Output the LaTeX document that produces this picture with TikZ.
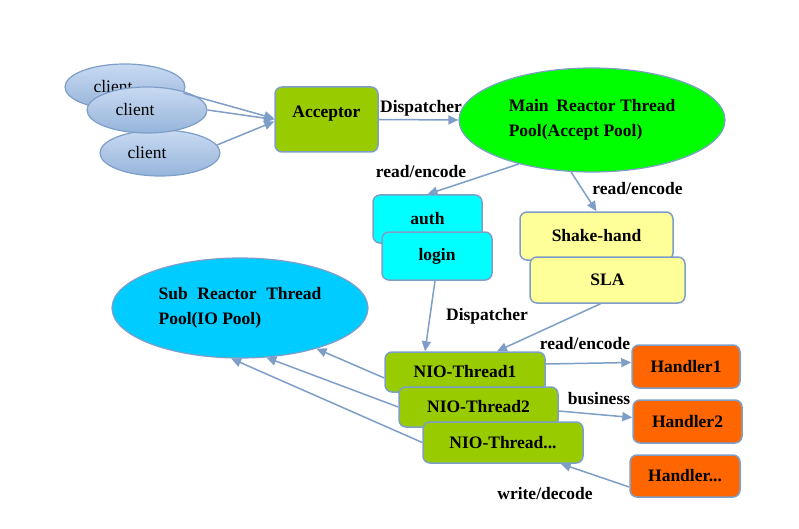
\documentclass[tikz,border=0pt]{standalone}
\usepackage{fontspec}
\setmainfont{Liberation Serif}
\usetikzlibrary{arrows.meta,shapes.geometric}
\definecolor{linec}{RGB}{126,158,200}
\definecolor{cliTop}{RGB}{200,218,242}
\definecolor{cliBot}{RGB}{150,180,218}
\definecolor{accg}{RGB}{153,204,0}
\definecolor{maing}{RGB}{0,255,0}
\definecolor{subb}{RGB}{0,204,255}
\definecolor{cyanb}{RGB}{0,255,255}
\definecolor{yelb}{RGB}{255,255,153}
\definecolor{orab}{RGB}{255,102,0}
\begin{document}
\begin{tikzpicture}[x=1pt,y=-1pt,
  every node/.style={font=\fontsize{17.5}{25}\selectfont\bfseries},
  box/.style={draw=linec, line width=1.5pt, rounded corners=7pt, inner sep=0pt},
  cli/.style={ellipse, draw=linec, line width=1.2pt, top color=cliTop, bottom color=cliBot,
    minimum width=120pt, minimum height=46pt, inner sep=0pt, font=\fontsize{17.5}{20}\selectfont},
  pool/.style={ellipse, draw=linec, line width=1.2pt, inner sep=0pt, align=left},
  arr/.style={draw=linec, line width=1.5pt, -{Triangle[length=10pt,width=9pt]}},
  lbl/.style={inner sep=0pt}
]
\useasboundingbox (0,0) rectangle (799,529);

% clients
\node[cli] (c1) at (125,87) {\raisebox{-4pt}{client}\kern24pt};
\node[cli] (c3) at (160,153) {client\kern26pt};
\node[cli] (c2) at (147,110) {client\kern24pt};

% acceptor
\node[box, fill=accg, minimum width=103pt, minimum height=65pt, text height=12pt, text depth=15pt] (acc) at (326.5,119.5) {Acceptor};

% main reactor
\node[pool, fill=maing, minimum width=266pt, minimum height=104pt] (main) at (592,120)
  {Main\hspace{0.45em}Reactor Thread\\Pool(Accept Pool)};

% auth / login
\node[box, fill=cyanb, minimum width=109pt, minimum height=48pt] (auth) at (427.5,219) {auth};
\node[box, fill=cyanb, minimum width=110pt, minimum height=48pt] (login) at (437,256) {login};

% shake-hand / SLA
\node[box, fill=yelb, minimum width=153pt, minimum height=48pt] (shake) at (596.5,236) {Shake-hand};
\node[box, fill=yelb, minimum width=155pt, minimum height=46pt] (sla) at (607.5,280) {SLA};

% sub reactor
\node[pool, fill=subb, minimum width=256pt, minimum height=100pt] (sub) at (240,308)
  {Sub\hspace{0.55em}Reactor\hspace{0.55em}Thread\\Pool(IO Pool)};

% NIO threads
\node[box, fill=accg, minimum width=160pt, minimum height=40pt] (nio1) at (465,372) {NIO-Thread1};
\node[box, fill=accg, minimum width=159pt, minimum height=40pt] (nio2) at (478.5,407) {NIO-Thread2};
\node[box, fill=accg, minimum width=160pt, minimum height=41pt] (nio3) at (503,442.5) {NIO-Thread...};

% handlers
\node[box, fill=orab, minimum width=108pt, minimum height=43pt] (h1) at (686,366.5) {Handler1};
\node[box, fill=orab, minimum width=109pt, minimum height=43pt] (h2) at (687.5,421.5) {Handler2};
\node[box, fill=orab, minimum width=110pt, minimum height=42pt] (h3) at (685,476) {Handler...};

% connectors
\draw[arr] (c1.-6) -- ([yshift=1pt]acc.west);
\draw[arr] (c2.east) -- (acc.west);
\draw[arr] (c3.8) -- ([yshift=-2pt]acc.west);
\draw[arr] (acc.east) -- (main.west);
\draw[arr] (main.211) -- (auth.north);
\draw[arr] (main.248) -- (shake.north);
\draw[arr] ([xshift=-2pt]login.south) -- ([xshift=-40pt]nio1.north);
\draw[arr] ([xshift=-7pt]sla.south) -- ([xshift=32pt]nio1.north);
\draw[arr] ([yshift=-6pt]nio1.west) -- (sub.-28);
\draw[arr] (nio2.west) -- (sub.-62);
\draw[arr] (nio3.west) -- (sub.-100);
\draw[arr] ([yshift=8pt]nio1.east) -- ([yshift=4pt]h1.west);
\draw[arr] ([yshift=-4pt]nio2.east) -- ([yshift=4pt]h2.west);
\draw[arr] ([yshift=-11pt]h3.west) -- ([xshift=-23pt]nio3.south east);

% labels
\node[lbl] (l1) at (421,108) {Dispatcher};
\node[lbl] (l2) at (421,172) {read/encode};
\node[lbl] (l3) at (637.5,189) {read/encode};
\node[lbl] (l4) at (487,316) {Dispatcher};
\node[lbl] (l5) at (585,344) {read/encode};
\node[lbl] (l6) at (599,399) {business};
\node[lbl] (l7) at (545,494) {write/decode};
\end{tikzpicture}
\end{document}
